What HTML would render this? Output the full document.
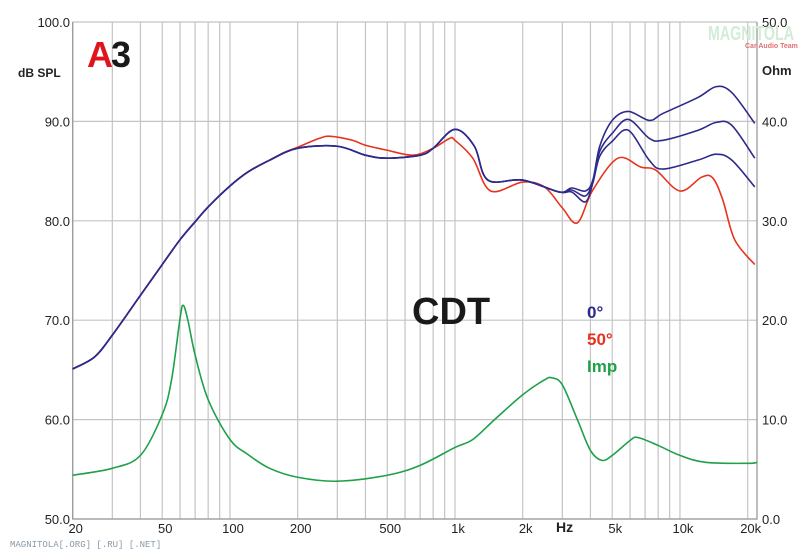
<!DOCTYPE html>
<html><head><meta charset="utf-8"><style>
body{margin:0;background:#fff;}
svg{display:block;font-family:"Liberation Sans",sans-serif;}
</style></head><body>
<svg id="chart" width="809" height="552" viewBox="0 0 809 552">
<g id="grid"></g>
<g id="labels"></g>
<g id="series"></g>
<text x="18" y="77" font-size="12" font-weight="bold" fill="#222">dB SPL</text>
<text x="762" y="75" font-size="13" font-weight="bold" fill="#222">Ohm</text>
<text x="87" y="67" font-size="36" font-weight="900" fill="#e0141b">A</text>
<text x="111" y="67" font-size="36" font-weight="900" fill="#1a1a1a">3</text>
<text x="708" y="40" font-size="20" fill="#d3ecd6" font-weight="bold" textLength="86" lengthAdjust="spacingAndGlyphs">MAGNITOLA</text>
<text x="745" y="48" font-size="7" fill="#e07070" font-weight="bold">Car Audio Team</text>
<text x="412" y="324" font-size="38" font-weight="bold" fill="#1a1a1a">CDT</text>
<text x="587" y="318" font-size="17" font-weight="bold" fill="#2e2a8c">0°</text>
<text x="587" y="345" font-size="17" font-weight="bold" fill="#e8321e">50°</text>
<text x="587" y="372" font-size="17" font-weight="bold" fill="#1fa04a">Imp</text>
<text x="556" y="532" font-size="14" font-weight="bold" fill="#222">Hz</text>
<text x="10" y="547" font-size="9" fill="#8a9aa8" font-family="Liberation Mono, monospace">MAGNITOLA[.ORG] [.RU] [.NET]</text>
</svg>
<script>
const xTicks=[20,50,100,200,500,1000,2000,5000,10000,20000];
const xTickLabels=["20","50","100","200","500","1k","2k","5k","10k","20k"];
const yTicks=[100,90,80,70,60,50];
const y2Ticks=[50,40,30,20,10,0];
const freqA=[20,25,30,40,50,60,70,80,100,120,150,200,300,400,500,700,800,1000,1220,1400,2000,2900,3300,3800,4100,4400,5000,5900,7300,8400,12000,14500,17000,21500];
const onAxisTop=[65.1,66.3,68.5,72.5,75.6,78.1,79.9,81.4,83.5,84.9,86.1,87.3,87.5,86.6,86.3,86.6,87.3,89.2,87.5,84.1,84.1,82.9,83.3,83.0,84.1,87.5,90.1,91.0,90.1,90.8,92.4,93.5,92.9,89.8];
const onAxisMid=[65.1,66.3,68.5,72.5,75.6,78.1,79.9,81.4,83.5,84.9,86.1,87.3,87.5,86.6,86.3,86.6,87.3,89.2,87.5,84.1,84.1,82.9,83.1,82.5,84.0,87.0,88.8,90.2,88.3,88.1,89.1,89.9,89.6,86.3];
const onAxisLow=[65.1,66.3,68.5,72.5,75.6,78.1,79.9,81.4,83.5,84.9,86.1,87.3,87.5,86.6,86.3,86.6,87.3,89.2,87.5,84.1,84.1,82.9,82.9,81.9,83.8,86.5,88.0,89.1,86.1,85.2,86.1,86.7,86.1,83.4];
const freqR=[20,25,30,40,50,60,70,80,100,120,150,175,200,250,280,350,400,500,650,800,950,1000,1200,1440,2000,2500,3000,3500,4100,5300,6700,7800,10000,12500,14000,15500,17500,21500];
const offAxis=[65.1,66.3,68.5,72.5,75.6,78.1,79.9,81.4,83.5,84.9,86.1,86.9,87.4,88.3,88.5,88.1,87.6,87.1,86.6,87.3,88.3,88.1,86.3,83.0,83.9,83.4,81.3,79.8,83.1,86.3,85.4,85.1,83.0,84.4,84.3,82.1,78.1,75.6];
const freqI=[20,30,40,50,55,60,62,65,70,80,100,120,150,200,300,500,700,1000,1200,1500,2000,2500,2700,3000,3500,4000,4500,5000,6000,6500,8000,10000,13000,20000,22000];
const impedance=[4.4,5.1,6.4,10.5,14,20.2,21.5,20,16.5,12,8,6.5,5.1,4.2,3.8,4.4,5.4,7.2,8.0,10,12.5,14,14.2,13.5,10,6.9,5.9,6.4,7.9,8.2,7.4,6.4,5.7,5.6,5.7];

const NS="http://www.w3.org/2000/svg";
const X0=72.7,DEC=225,Y0=22,YB=519,XR=757;
const fx=f=>X0+DEC*Math.log10(f/20);
const fy=d=>Y0+(100-d)*(YB-Y0)/50;
const fy2=o=>YB-o*(YB-Y0)/50;
function el(tag,attrs,parent){const e=document.createElementNS(NS,tag);for(const k in attrs)e.setAttribute(k,attrs[k]);parent.appendChild(e);return e;}
const grid=document.getElementById('grid'),labels=document.getElementById('labels'),series=document.getElementById('series');
for(let dec=10;dec<=10000;dec*=10){for(let m=1;m<10;m++){const f=dec*m;if(f<20||f>22500)continue;
 const l=el('line',{x1:fx(f),x2:fx(f),y1:Y0,y2:YB,stroke:'#c4c4c4','stroke-width':1.2},grid);
 
 }}
yTicks.forEach(d=>{const l=el('line',{x1:X0,x2:XR,y1:fy(d),y2:fy(d),stroke:'#c4c4c4','stroke-width':1.2},grid);
 
 });
const ax=el('path',{d:`M${X0},${Y0}V${YB}H${XR}V${Y0}`,fill:'none',stroke:'#9a9a9a','stroke-width':1.3},grid);


yTicks.forEach(d=>{const t=el('text',{x:70,y:fy(d)+5,'text-anchor':'end','font-size':13,fill:'#222'},labels);t.textContent=d.toFixed(1);
 
 });
y2Ticks.forEach(o=>{const t=el('text',{x:762,y:fy2(o)+5,'font-size':13,fill:'#222'},labels);t.textContent=o.toFixed(1);
 
 });
xTicks.forEach((f,i)=>{const t=el('text',{x:fx(f)+3,y:533,'text-anchor':'middle','font-size':13,fill:'#222'},labels);t.textContent=xTickLabels[i];
 
 });
function pathFor(fs,vs,yf){const p=fs.map((f,i)=>[fx(f),yf(vs[i])]);let d=`M${p[0][0]},${p[0][1]}`;
 for(let i=0;i<p.length-1;i++){const a=p[Math.max(0,i-1)],b=p[i],c=p[i+1],e=p[Math.min(p.length-1,i+2)];
  d+=`C${b[0]+(c[0]-a[0])/6},${b[1]+(c[1]-a[1])/6} ${c[0]-(e[0]-b[0])/6},${c[1]-(e[1]-b[1])/6} ${c[0]},${c[1]}`;}return d;}
function draw(fs,vs,yf,color,name){const p=el('path',{d:pathFor(fs,vs,yf),fill:'none',stroke:color,'stroke-width':1.6},series);
 
 }
draw(freqI,impedance,fy2,'#1fa04a','impedance-line');
draw(freqR,offAxis,fy,'#e8321e','response-50deg-line');
draw(freqA,onAxisLow,fy,'#2e2a8c','response-0deg-low-line');
draw(freqA,onAxisMid,fy,'#2e2a8c','response-0deg-mid-line');
draw(freqA,onAxisTop,fy,'#2e2a8c','response-0deg-top-line');
</script>
</body></html>
